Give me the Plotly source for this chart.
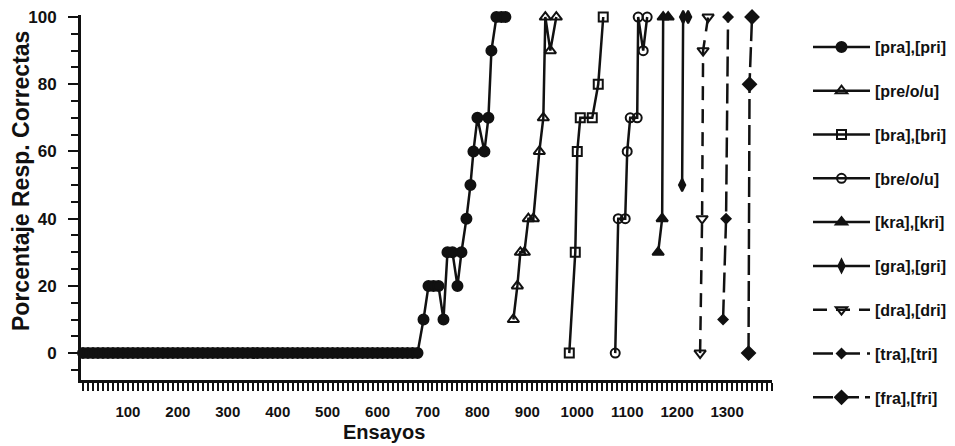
import plotly.graph_objects as go

# ---- data (trial number, percent correct) ----
pra_x = list(range(10, 690, 10)) + [692, 702, 712, 722, 732, 740, 750, 760, 768, 778, 786, 792, 800, 814, 822, 828, 838, 848, 856]
pra_y = [0] * 68 + [10, 20, 20, 20, 10, 30, 30, 20, 30, 40, 50, 60, 70, 60, 70, 90, 100, 100, 100]

pre_x = [872, 880, 886, 894, 902, 912, 924, 932, 936, 946, 958]
pre_y = [10, 20, 30, 30, 40, 40, 60, 70, 100, 90, 100]

bra_x = [984, 996, 1000, 1006, 1030, 1042, 1052]
bra_y = [0, 30, 60, 70, 70, 80, 100]

bre_x = [1076, 1082, 1096, 1100, 1106, 1120, 1122, 1132, 1140]
bre_y = [0, 40, 40, 60, 70, 70, 100, 90, 100]

kra_x = [1162, 1170, 1172, 1182]
kra_y = [30, 40, 100, 100]

gra_x = [1210, 1212, 1222]
gra_y = [50, 100, 100]

dra_x = [1246, 1250, 1252, 1262]
dra_y = [0, 40, 90, 100]

tra_x = [1292, 1298, 1302]
tra_y = [10, 40, 100]

fra_x = [1343, 1345, 1350]
fra_y = [0, 80, 100]

names = ["[pra],[pri]", "[pre/o/u]", "[bra],[bri]", "[bre/o/u]", "[kra],[kri]",
         "[gra],[gri]", "[dra],[dri]", "[tra],[tri]", "[fra],[fri]"]
x_ticks = list(range(100, 1400, 100))
y_ticks = [0, 20, 40, 60, 80, 100]

xs = [pra_x, pre_x, bra_x, bre_x, kra_x, gra_x, dra_x, tra_x, fra_x]
ys = [pra_y, pre_y, bra_y, bre_y, kra_y, gra_y, dra_y, tra_y, fra_y]
symbols = ["circle", "triangle-up-open", "square-open", "circle-open", "triangle-up",
           "diamond-tall", "triangle-down-open", "diamond", "diamond"]
sizes = [10, 10, 9, 9, 10, 9, 10, 7, 10]
dashes = ["solid"] * 6 + ["14px,9px", "20px,7px", "20px,6px"]

BLACK = "#111111"
FONT = "Liberation Sans, Arial, sans-serif"

L, R_EDGE, T, B = 81, 955, 15, 380       # paper area (right margin 0)
PW = R_EDGE - L
PLOT_RIGHT = 772                          # end of the x axis line

fig = go.Figure()
for i in range(9):
    fig.add_trace(go.Scatter(
        x=xs[i], y=ys[i], name="<b>%s</b>" % names[i], mode="lines+markers",
        line=dict(color=BLACK, width=2.5, dash=dashes[i]),
        marker=dict(symbol=symbols[i], size=sizes[i], color=BLACK,
                    line=dict(color=BLACK, width=2)),
        legendgroup="g%d" % i, cliponaxis=False,
    ))

fig.update_layout(
    width=955, height=446,
    margin=dict(l=L, r=0, t=T, b=446 - B),
    plot_bgcolor="white", paper_bgcolor="white",
    font=dict(family=FONT, color=BLACK),
    showlegend=True,
    legend=dict(x=(808 - L) / PW, y=(B - 30) / (B - T), xanchor="left", yanchor="top",
                font=dict(size=16, family=FONT, color=BLACK),
                tracegroupgap=20, itemwidth=57, maxheight=440,
                bgcolor="rgba(0,0,0,0)"),
    xaxis=dict(domain=[0, (PLOT_RIGHT - L) / PW], range=[6, 1390],
               showgrid=False, zeroline=False,
               showline=True, linecolor=BLACK, linewidth=3,
               tickmode="array", tickvals=x_ticks,
               ticktext=["<b>%d</b>" % v for v in x_ticks],
               ticks="outside", ticklen=8, tickwidth=1.5, tickcolor=BLACK,
               ticklabelstandoff=8,
               tickfont=dict(size=15, family=FONT, color=BLACK),
               minor=dict(dtick=10, tick0=0, ticks="outside", ticklen=8, tickwidth=1.5, tickcolor=BLACK)),
    yaxis=dict(range=[-8, 100.6], showgrid=False, zeroline=False,
               showline=True, linecolor=BLACK, linewidth=3,
               tickmode="array", tickvals=y_ticks,
               ticktext=["<b>%d</b>" % v for v in y_ticks],
               ticks="outside", ticklen=10, tickwidth=2, tickcolor=BLACK,
               ticklabelstandoff=8,
               tickfont=dict(size=17, family=FONT, color=BLACK),
               minor=dict(dtick=5, tick0=0, ticks="outside", ticklen=7, tickwidth=1.5, tickcolor=BLACK)),
    annotations=[
        dict(text="<b>Ensayos</b>", xref="paper", yref="paper", x=(384 - L) / PW, y=(B - 432) / (B - T),
             xanchor="center", yanchor="middle", showarrow=False,
             font=dict(size=20, family=FONT, color=BLACK)),
        dict(text="<b>Porcentaje Resp. Correctas</b>", xref="paper", yref="paper",
             x=(21 - L) / PW, y=(B - 181) / (B - T), textangle=-90,
             xanchor="center", yanchor="middle", showarrow=False,
             font=dict(size=23, family=FONT, color=BLACK)),
    ],
)

fig.write_html("out.html", config={"displayModeBar": False},
               post_script="document.body.style.margin='0px';")
